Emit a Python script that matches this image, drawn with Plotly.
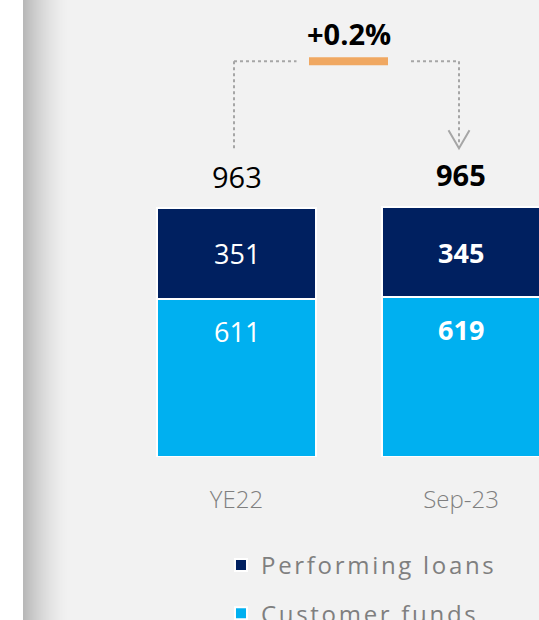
import plotly.graph_objects as go

# ---- data ----
categories = ["YE22", "Sep-23"]
performing_loans = [351, 345]
customer_funds = [611, 619]
totals_label = [963, 965]
series_names = ["Performing loans", "Customer funds"]

DARK = "#002060"
LIGHT = "#00B0F0"
BG = "#F2F2F2"
FONT = "Open Sans"

fig = go.Figure()
fig.add_trace(go.Bar(
    x=categories, y=customer_funds, name=series_names[1],
    marker=dict(color=LIGHT, line=dict(color="white", width=2)),
    width=0.708, legendgroup="b", legendrank=2, hoverinfo="skip",
))
fig.add_trace(go.Bar(
    x=categories, y=performing_loans, name=series_names[0],
    marker=dict(color=DARK, line=dict(color="white", width=2)),
    width=0.708, legendgroup="a", legendrank=1, hoverinfo="skip",
))

ann = []
stack_tops = [a + b for a, b in zip(performing_loans, customer_funds)]
for i, c in enumerate(categories):
    bold = i == 1
    w = "bold" if bold else "normal"
    ann.append(dict(x=c, y=customer_funds[i] + performing_loans[i] / 2, text=str(performing_loans[i]),
                    showarrow=False, font=dict(family=FONT, size=27, color="white", weight=w),
                    xanchor="center", yanchor="middle"))
    ann.append(dict(x=c, y=customer_funds[i], text=str(customer_funds[i]),
                    showarrow=False, font=dict(family=FONT, size=27, color="white", weight=w),
                    xanchor="center", yanchor="middle", yshift=-33))
    ann.append(dict(x=c, y=stack_tops[i], text=str(totals_label[i]),
                    showarrow=False, font=dict(family=FONT, size=29, color="black", weight=w),
                    xanchor="center", yanchor="middle", yshift=31 if i == 0 else 33))

pct = (totals_label[1] / totals_label[0] - 1) * 100
ymax = max(stack_tops)
ann.append(dict(x=0.5, y=ymax, text=f"+{pct:.1f}%", showarrow=False,
                font=dict(family=FONT, size=29, color="black", weight="bold"),
                xanchor="center", yanchor="middle", yshift=174))

shapes = []
shapes.append(dict(type="rect", xref="paper", yref="paper", x0=0, x1=23 / 539, y0=-0.5, y1=1.1,
                   fillcolor="white", line=dict(width=0), layer="below"))
n = 48
for k in range(n):
    t = k / (n - 1)
    g = int(184 + (242 - 184) * (1 - (1 - t) ** 1.6))
    shapes.append(dict(type="rect", xref="paper", yref="paper",
                       x0=(23 + k) / 539, x1=(24.2 + k) / 539, y0=-0.5, y1=1.1,
                       fillcolor=f"rgb({g},{g},{g})", line=dict(width=0), layer="below"))

GRAY = "#A6A6A6"
dot = dict(color=GRAY, width=2, dash="dot")
common = dict(xsizemode="pixel", ysizemode="pixel", yref="y", xref="x", yanchor=ymax)
shapes.append(dict(type="line", xanchor=0, x0=-2.5, x1=-2.5, y0=59, y1=146, line=dict(dot), **common))
shapes.append(dict(type="line", xanchor=0, x0=-2.5, x1=60, y0=146, y1=146, line=dict(dot), **common))
shapes.append(dict(type="line", xanchor=1, x0=-50, x1=-2, y0=146, y1=146, line=dict(dot), **common))
shapes.append(dict(type="line", xanchor=1, x0=-2, x1=-2, y0=146, y1=62, line=dict(dot), **common))
shapes.append(dict(type="path", xanchor=1, path="M -12.5 77 L -2 59 L 8.5 77",
                   line=dict(color=GRAY, width=2), **common))
shapes.append(dict(type="rect", xanchor=0, x0=72.5, x1=151.5, y0=142, y1=150,
                   fillcolor="#F0A862", line=dict(width=0), **common))

fig.update_layout(
    width=539, height=620,
    margin=dict(l=0, r=0, t=0, b=163, pad=0, autoexpand=False),
    paper_bgcolor=BG, plot_bgcolor="rgba(0,0,0,0)",
    barmode="stack", bargap=0,
    showlegend=True,
    legend=dict(x=0.41, y=(457 - 543) / 457, xanchor="left", yanchor="top", orientation="v",
                traceorder="grouped", tracegroupgap=14, bgcolor="rgba(0,0,0,0)",
                font=dict(family=FONT, size=24, color="#7F7F7F")),
    xaxis=dict(type="category", range=[-236.5 / 224.5, (539 - 236.5) / 224.5],
               showgrid=False, zeroline=False, showline=False, ticks="", automargin=False,
               tickfont=dict(family=FONT, size=24, color="#7F7F7F", weight=300),
               ticklabelstandoff=26, fixedrange=True),
    yaxis=dict(range=[0, 457 / 0.259], visible=False, fixedrange=True, automargin=False),
    annotations=ann, shapes=shapes,
    font=dict(family=FONT),
)
for tr in fig.data:
    tr.name = f'<span style="letter-spacing:2.7px">{tr.name}</span>'

fig.write_html("out.html", config={"displayModeBar": False},
               post_script="document.body.style.margin='0';")
